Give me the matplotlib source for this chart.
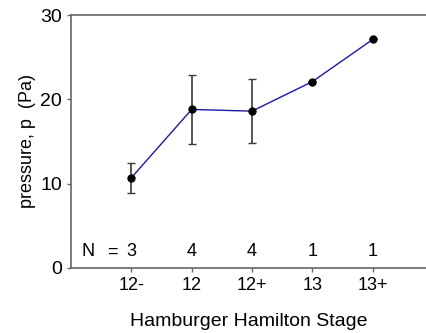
import matplotlib
matplotlib.use("Agg")
import matplotlib.pyplot as plt

# data
stages = ["12-", "12", "12+", "13", "13+"]
pressure = [10.7, 18.8, 18.6, 22.1, 27.1]
err = [1.75, 4.1, 3.8, 0, 0]
counts = [3, 4, 4, 1, 1]

plt.rcParams["font.family"] = ["Liberation Sans", "DejaVu Sans"]

fig = plt.figure(figsize=(4.27, 3.33), dpi=100)
ax = fig.add_axes([71 / 427, 65 / 333, 1 - 71 / 427, 253 / 333])

xs = list(range(1, len(stages) + 1))
ax.plot(xs, pressure, color="#1a1aa0", lw=1.0, zorder=2)
ax.errorbar(xs, pressure, yerr=err, fmt="none", ecolor="#3a3a3a",
            elinewidth=1.2, capsize=3, capthick=1.0, zorder=1)
ax.plot(xs, pressure, "o", color="black", ms=5, zorder=3)

ax.text(0.28, 1.9, "N", fontsize=13, ha="center", va="center")
ax.text(0.68, 1.9, "=", fontsize=13, ha="center", va="center")
for x, n in zip(xs, counts):
    ax.text(x, 1.9, str(n), fontsize=13, ha="center", va="center")

ax.set_xlim(0, 5.9)
ax.set_ylim(0, 30)
ax.set_xticks(xs)
ax.set_xticklabels(stages)
ax.set_yticks([0, 10, 20, 30])
ax.tick_params(axis="both", labelsize=13, colors="#666666", labelcolor="black",
               length=3, width=1)
ax.tick_params(axis="y", labelsize=14)

for s in ["left", "top", "bottom"]:
    ax.spines[s].set_color("#666666")
    ax.spines[s].set_linewidth(1.2)
ax.spines["right"].set_visible(False)

ax.set_xlabel("Hamburger Hamilton Stage", fontsize=14, labelpad=14)
ax.set_ylabel("pressure, p  (Pa)", fontsize=13, labelpad=3)

fig.savefig("out.png", dpi=100)
